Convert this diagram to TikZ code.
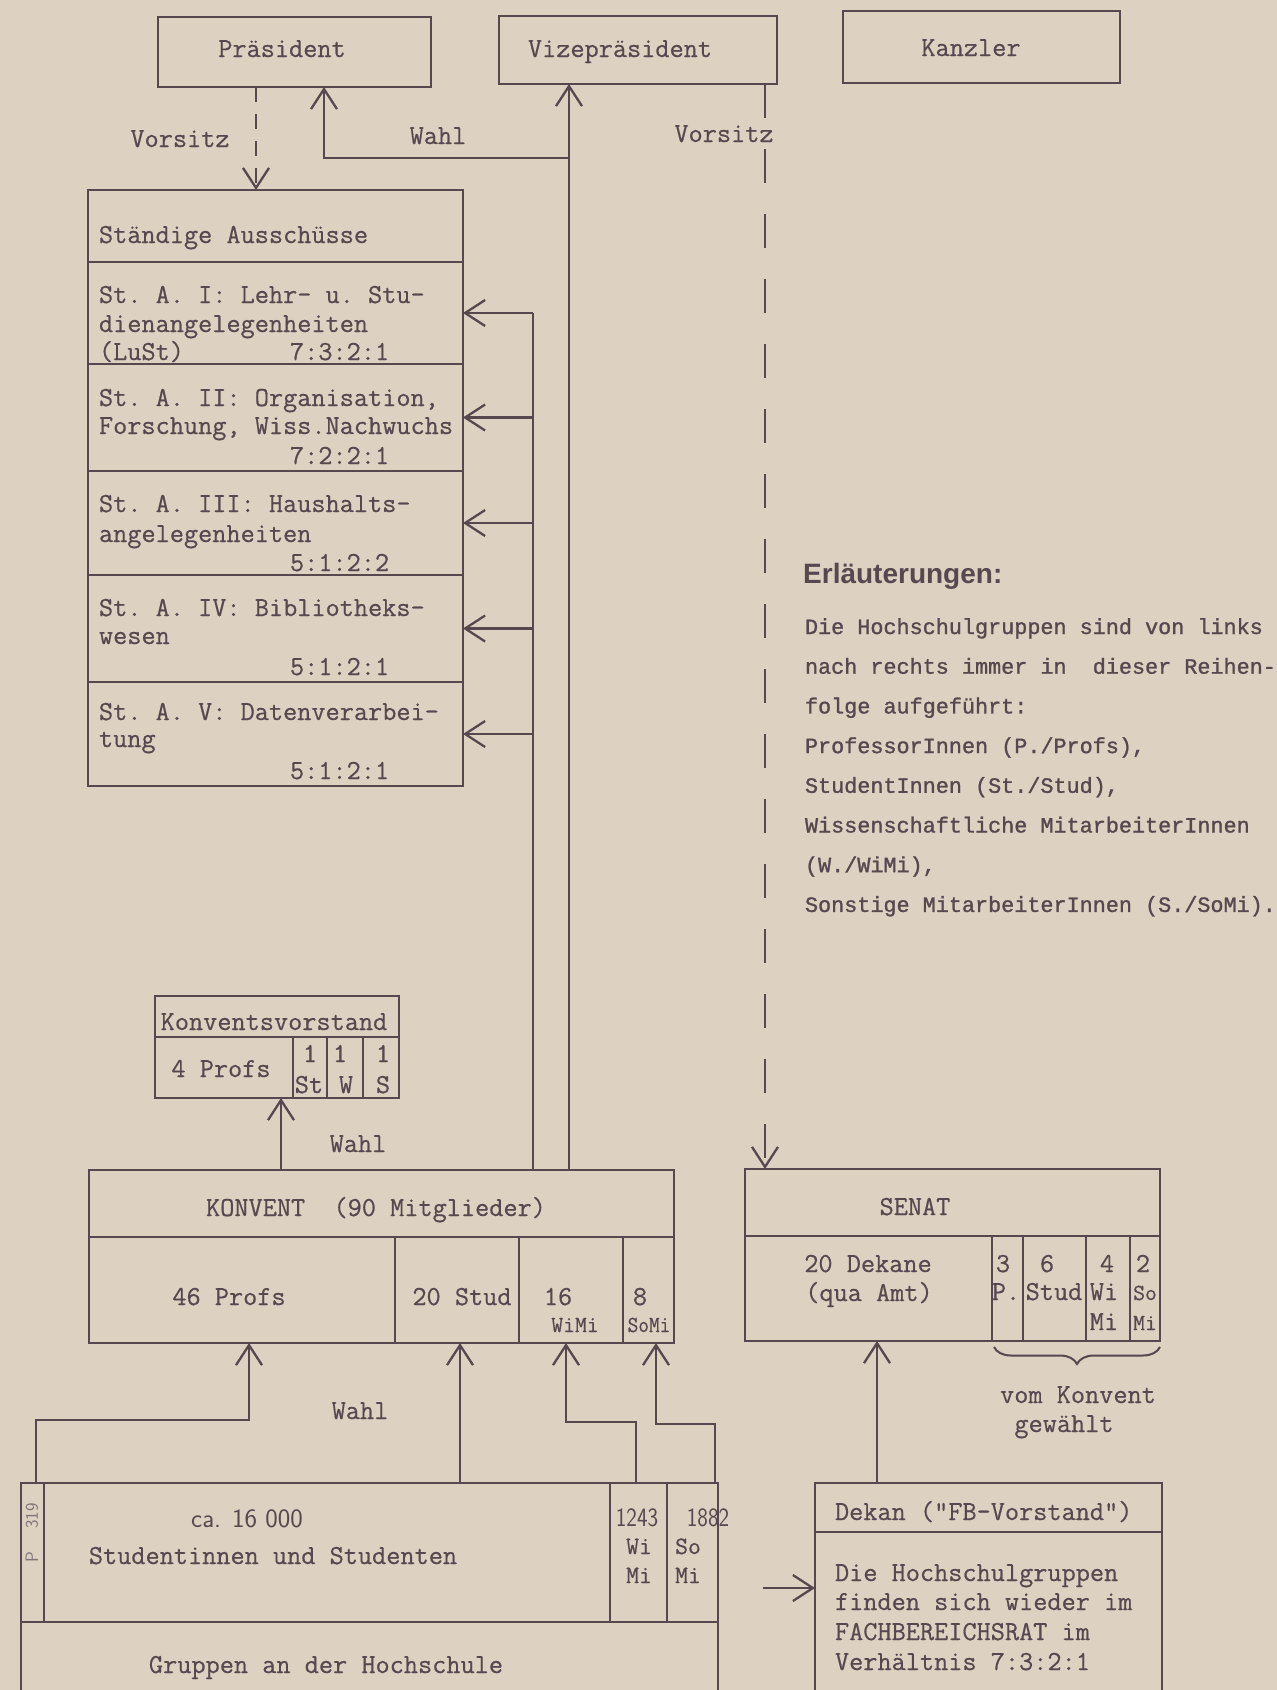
\documentclass[tikz,border=0pt]{standalone}
\usepackage{fontspec}
\setmonofont{Latin Modern Mono}[FakeBold=0.5]
\usetikzlibrary{arrows.meta,decorations.pathreplacing}
\newfontfamily\erlfont{Liberation Mono}[FakeBold=1.2]
\newfontfamily\headfont{Liberation Sans}
\definecolor{paper}{RGB}{221,209,193}
\definecolor{ink}{RGB}{86,72,78}
\begin{document}
\begin{tikzpicture}[x=1pt,y=-1pt,
  cell/.style={draw=ink, line width=2.3pt, inner sep=0pt, outer sep=0pt, rectangle},
  tx/.style={inner sep=0pt, outer sep=0pt, text=ink, font=\fontsize{27.5}{30}\selectfont\ttfamily},
  sm/.style={inner sep=0pt, outer sep=0pt, text=ink, font=\fontsize{23}{25}\selectfont\ttfamily},
  mid/.style={inner sep=0pt, outer sep=0pt, text=ink, font=\fontsize{25}{27}\selectfont\ttfamily},
  sfn/.style={inner sep=0pt, outer sep=0pt, text=ink, font=\fontsize{26.5}{28}\selectfont\sffamily},
  erl/.style={inner sep=0pt, outer sep=0pt, text=ink, font=\fontsize{21.8}{24}\selectfont\erlfont, anchor=base west},
  conn/.style={draw=ink, line width=2.3pt},
  arr/.style={-{Straight Barb[length=20pt,width=26pt]}},
  vorsA/.style={dash pattern=on 15pt off 12pt},
  vorsB/.style={dash pattern=on 34pt off 31pt}]

\fill[paper] (0,0) rectangle (1277,1690);
\useasboundingbox (0,0) rectangle (1277,1690);

% helper coordinates for connector positions
\coordinate (xV) at (256,0);
\coordinate (xW) at (324,0);
\coordinate (xVz) at (569,0);
\coordinate (xS) at (533,0);
\coordinate (xKV) at (281,0);
\coordinate (xVS) at (765,0);
\coordinate (xD) at (877,0);
\coordinate (xP) at (36,0);
\coordinate (xA) at (249,0);
\coordinate (xB) at (460,0);
\coordinate (xG) at (636,0);
\coordinate (xC) at (566,0);
\coordinate (xE) at (715,0);
\coordinate (xF) at (656,0);
\coordinate (yP) at (0,1420);
\coordinate (yW) at (0,1422);
\coordinate (yS) at (0,1424);
\coordinate (wb) at (569,158);
\coordinate (a0) at (763,1588);

% top boxes
\node[cell, minimum width=273pt, minimum height=70pt] (praes) at (294.5,52) {};
\node[cell, minimum width=278pt, minimum height=68pt] (vize) at (638,50) {};
\node[cell, minimum width=277pt, minimum height=72pt] (kanz) at (981.5,47) {};
\node[tx, anchor=base] (tpraes) at (282,57) {Präsident};
\node[tx, anchor=base] (tvize) at (620,57) {Vizepräsident};
\node[tx, anchor=base] (tkanz) at (971,56) {Kanzler};

% Staendige Ausschuesse
\node[cell, minimum width=375pt, minimum height=72pt] (sta0) at (275.5,226) {};
\node[cell, minimum width=375pt, minimum height=102pt] (sta1) at (275.5,313) {};
\node[cell, minimum width=375pt, minimum height=107pt] (sta2) at (275.5,417.5) {};
\node[cell, minimum width=375pt, minimum height=104pt] (sta3) at (275.5,523) {};
\node[cell, minimum width=375pt, minimum height=107pt] (sta4) at (275.5,628.5) {};
\node[cell, minimum width=375pt, minimum height=104pt] (sta5) at (275.5,734) {};
\node[tx, anchor=base west] (s0) at (99,243) {Ständige Ausschüsse};
\node[tx, anchor=base west] (s1a) at (99,303) {St. A. I: Lehr- u. Stu-};
\node[tx, anchor=base west] (s1b) at (99,332) {dienangelegenheiten};
\node[tx, anchor=base west] (s1c) at (99,360) {(LuSt)};
\node[tx, anchor=base west] (s1r) at (290,360) {7:3:2:1};
\node[tx, anchor=base west] (s2a) at (99,406) {St. A. II: Organisation,};
\node[tx, anchor=base west] (s2b) at (99,434) {Forschung, Wiss.Nachwuchs};
\node[tx, anchor=base west] (s2r) at (290,464) {7:2:2:1};
\node[tx, anchor=base west] (s3a) at (99,512) {St. A. III: Haushalts-};
\node[tx, anchor=base west] (s3b) at (99,542) {angelegenheiten};
\node[tx, anchor=base west] (s3r) at (290,571) {5:1:2:2};
\node[tx, anchor=base west] (s4a) at (99,616) {St. A. IV: Bibliotheks-};
\node[tx, anchor=base west] (s4b) at (99,644) {wesen};
\node[tx, anchor=base west] (s4r) at (290,675) {5:1:2:1};
\node[tx, anchor=base west] (s5a) at (99,720) {St. A. V: Datenverarbei-};
\node[tx, anchor=base west] (s5b) at (99,747) {tung};
\node[tx, anchor=base west] (s5r) at (290,779) {5:1:2:1};

% Konventsvorstand
\node[cell, minimum width=244pt, minimum height=41pt] (kvhead) at (277,1016.5) {};
\node[cell, minimum width=138pt, minimum height=61pt] (kvprofs) at (224,1067.5) {};
\node[cell, minimum width=34pt, minimum height=61pt] (kvst) at (310,1067.5) {};
\node[cell, minimum width=36pt, minimum height=61pt] (kvw) at (345,1067.5) {};
\node[cell, minimum width=36pt, minimum height=61pt] (kvs) at (381,1067.5) {};
\node[tx, anchor=base] (tkv) at (274,1030) {Konventsvorstand};
\node[tx, anchor=base] (tkvp) at (221,1077) {4 Profs};
\node[tx, anchor=base] (tkv1a) at (310,1062) {1};
\node[tx, anchor=base] (tkv1b) at (309,1093) {St};
\node[tx, anchor=base] (tkv2a) at (340,1062) {1};
\node[tx, anchor=base] (tkv2b) at (346,1093) {W};
\node[tx, anchor=base] (tkv3a) at (383,1062) {1};
\node[tx, anchor=base] (tkv3b) at (383,1093) {S};

% Konvent
\node[cell, minimum width=585pt, minimum height=67pt] (konhead) at (381.5,1203.5) {};
\node[cell, minimum width=306pt, minimum height=106pt] (konprofs) at (242,1290) {};
\node[cell, minimum width=124pt, minimum height=106pt] (konstud) at (457,1290) {};
\node[cell, minimum width=104pt, minimum height=106pt] (konwimi) at (571,1290) {};
\node[cell, minimum width=51pt, minimum height=106pt] (konsomi) at (648.5,1290) {};
\node[tx, anchor=base] (tkon) at (376,1216) {KONVENT\ \ (90 Mitglieder)};
\node[tx, anchor=base] (tkon1) at (229,1305) {46 Profs};
\node[tx, anchor=base] (tkon2) at (462,1305) {20 Stud};
\node[tx, anchor=base] (tkon3) at (558,1305) {16};
\node[sm, anchor=base] (tkon3b) at (575,1332) {WiMi};
\node[tx, anchor=base] (tkon4) at (640,1305) {8};
\node[sm, anchor=base, xscale=0.9] (tkon4b) at (649,1332) {SoMi};

% Senat
\node[cell, minimum width=415pt, minimum height=67pt] (senhead) at (952.5,1202.5) {};
\node[cell, minimum width=247pt, minimum height=105pt] (sendek) at (868.5,1288.5) {};
\node[cell, minimum width=31pt, minimum height=105pt] (senp) at (1007.5,1288.5) {};
\node[cell, minimum width=63pt, minimum height=105pt] (senst) at (1054.5,1288.5) {};
\node[cell, minimum width=44pt, minimum height=105pt] (senwi) at (1108,1288.5) {};
\node[cell, minimum width=30pt, minimum height=105pt] (senso) at (1145,1288.5) {};
\node[tx, anchor=base] (tsen) at (915,1215) {SENAT};
\node[tx, anchor=base] (tsen1) at (868,1272) {20 Dekane};
\node[tx, anchor=base] (tsen1b) at (869,1301) {(qua Amt)};
\node[tx, anchor=base] (tsen2) at (1003,1272) {3};
\node[tx, anchor=base] (tsen2b) at (1006,1300) {P.};
\node[tx, anchor=base] (tsen3) at (1047,1272) {6};
\node[tx, anchor=base] (tsen3b) at (1054,1300) {Stud};
\node[tx, anchor=base] (tsen4) at (1107,1272) {4};
\node[tx, anchor=base] (tsen4b) at (1104,1300) {Wi};
\node[tx, anchor=base] (tsen4c) at (1104,1330) {Mi};
\node[tx, anchor=base] (tsen5) at (1143,1272) {2};
\node[sm, anchor=base] (tsen5b) at (1145,1300) {So};
\node[sm, anchor=base] (tsen5c) at (1145,1330) {Mi};
\draw[draw=ink, line width=2pt, decorate, decoration={brace, amplitude=17pt, mirror}] (994,1347) -- (1160,1347);
\node[tx, anchor=base] (tvk1) at (1078,1403) {vom Konvent};
\node[tx, anchor=base] (tvk2) at (1064,1432) {gewählt};

% Gruppen an der Hochschule
\node[cell, minimum width=23pt, minimum height=139pt] (bP) at (32.5,1552.5) {};
\node[cell, minimum width=566pt, minimum height=139pt] (bstud) at (327,1552.5) {};
\node[cell, minimum width=57pt, minimum height=139pt] (bwimi) at (638.5,1552.5) {};
\node[cell, minimum width=51pt, minimum height=139pt] (bsomi) at (692.5,1552.5) {};
\node[cell, minimum width=697pt, minimum height=98pt] (bgrp) at (369.5,1671) {};
\node[inner sep=0pt, rotate=90, text=ink!75, font=\fontsize{18}{19}\selectfont\sffamily] (tbp1) at (32,1516) {319};
\node[inner sep=0pt, rotate=90, text=ink!75, font=\fontsize{18}{19}\selectfont\sffamily] (tbp2) at (32,1557) {P};
\node[sfn, anchor=base] (tb1) at (247,1527) {ca. 16 000};
\node[tx, anchor=base] (tb2) at (273,1564) {Studentinnen und Studenten};
\node[sfn, anchor=base, xscale=0.85] (tb3) at (637,1526) {1243};
\node[mid, anchor=base] (tb3b) at (639,1554) {Wi};
\node[mid, anchor=base] (tb3c) at (639,1583) {Mi};
\node[sfn, anchor=base, xscale=0.85] (tb4) at (708,1526) {1882};
\node[mid, anchor=base] (tb4b) at (688,1554) {So};
\node[mid, anchor=base] (tb4c) at (688,1583) {Mi};
\node[tx, anchor=base] (tb5) at (326,1673) {Gruppen an der Hochschule};

% Dekan
\node[cell, minimum width=347pt, minimum height=49pt] (dekhead) at (988.5,1507.5) {};
\node[cell, minimum width=347pt, minimum height=188pt] (dekbody) at (988.5,1626) {};
\node[tx, anchor=base west] (td0) at (835,1520) {Dekan ("FB-Vorstand")};
\node[tx, anchor=base west] (td1) at (835,1581) {Die Hochschulgruppen};
\node[tx, anchor=base west] (td2) at (835,1610) {finden sich wieder im};
\node[tx, anchor=base west] (td3) at (835,1640) {FACHBEREICHSRAT im};
\node[tx, anchor=base west] (td4) at (835,1670) {Verhältnis 7:3:2:1};

% Erlaeuterungen
\node[inner sep=0pt, text=ink, font=\fontsize{28}{30}\selectfont\headfont\bfseries, anchor=base west] (erlh) at (803,583) {Erläuterungen:};
\node[erl] (e1) at (805,634) {Die Hochschulgruppen sind von links};
\node[erl] (e2) at (805,673.7) {nach rechts immer in\ \ dieser Reihen-};
\node[erl] (e3) at (805,713.4) {folge aufgeführt:};
\node[erl] (e4) at (805,753.1) {ProfessorInnen (P./Profs),};
\node[erl] (e5) at (805,792.8) {StudentInnen (St./Stud),};
\node[erl] (e6) at (805,832.5) {Wissenschaftliche MitarbeiterInnen};
\node[erl] (e7) at (805,872.2) {(W./WiMi),};
\node[erl] (e8) at (805,911.9) {Sonstige MitarbeiterInnen (S./SoMi).};

% connectors
\draw[conn, vorsA, arr] (praes.south -| xV) -- (sta0.north -| xV);
\draw[conn, arr] (konhead.north -| xVz) -- (vize.south -| xVz);
\draw[conn, arr] (wb) -- (wb -| xW) -- (praes.south -| xW);
\draw[conn] (konhead.north -| xS) -- (sta1.east -| xS);
\foreach \n in {1,...,5}{
  \draw[conn, arr] (sta\n.east -| xS) -- (sta\n.east);
}
\draw[conn, arr] (konhead.north -| xKV) -- (kvprofs.south -| xKV);
\draw[conn, vorsB, arr] (vize.south -| xVS) -- (senhead.north -| xVS);
\draw[conn, arr] (dekhead.north -| xD) -- (sendek.south -| xD);
\draw[conn, arr] (a0) -- (a0 -| dekbody.west);
\draw[conn, arr] (bP.north -| xP) -- (xP |- yP) -- (xA |- yP) -- (konprofs.south -| xA);
\draw[conn, arr] (bstud.north -| xB) -- (konstud.south -| xB);
\draw[conn, arr] (bwimi.north -| xG) -- (xG |- yW) -- (xC |- yW) -- (konwimi.south -| xC);
\draw[conn, arr] (bsomi.north -| xE) -- (xE |- yS) -- (xF |- yS) -- (konsomi.south -| xF);

% connector labels
\node[tx, anchor=base] (lv1) at (180,147) {Vorsitz};
\node[tx, anchor=base] (lw1) at (438,144) {Wahl};
\node[tx, anchor=base, fill=paper, inner sep=4pt] (lv2) at (724,142) {Vorsitz};
\node[tx, anchor=base] (lw2) at (358,1152) {Wahl};
\node[tx, anchor=base] (lw3) at (360,1419) {Wahl};
\end{tikzpicture}
\end{document}
